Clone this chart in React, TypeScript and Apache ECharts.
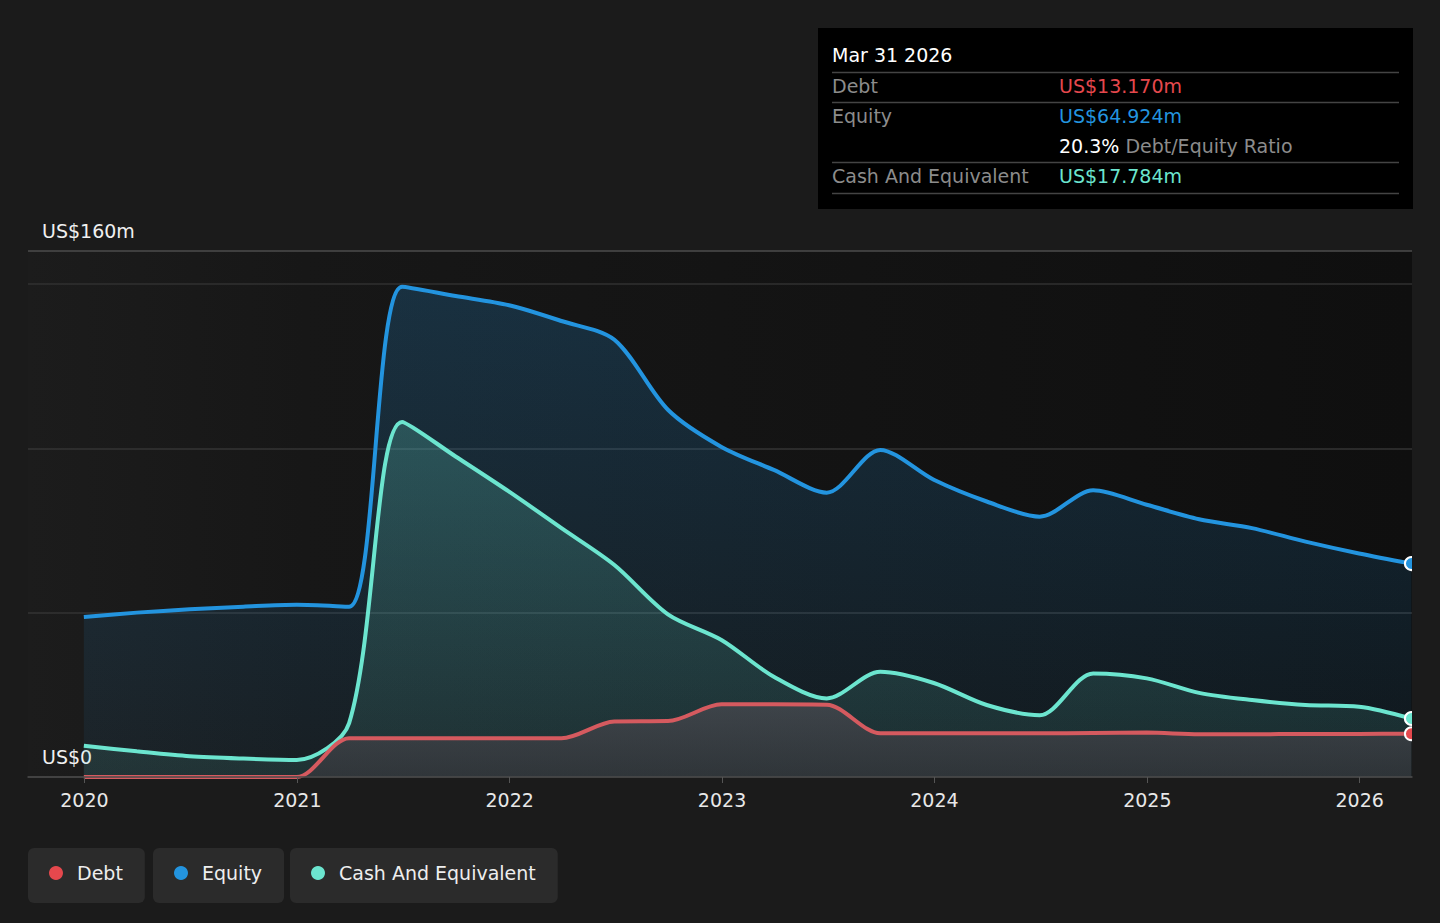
import React, { useEffect, useRef } from "react";
import * as echarts from "echarts";

const dates = [
  "2019-12-31", "2020-03-31", "2020-06-30", "2020-09-30", "2020-12-31",
  "2021-03-31", "2021-06-30", "2021-09-30", "2021-12-31",
  "2022-03-31", "2022-06-30", "2022-09-30", "2022-12-31",
  "2023-03-31", "2023-06-30", "2023-09-30", "2023-12-31",
  "2024-03-31", "2024-06-30", "2024-09-30", "2024-12-31",
  "2025-03-31", "2025-06-30", "2025-09-30", "2025-12-31",
  "2026-03-31",
];

const equity = [
  48.7, 50.0, 51.0, 51.8, 52.4,
  51.8, 149.1, 146.3, 143.5,
  138.7, 133.0, 111.7, 100.4,
  93.4, 86.5, 99.5, 90.4,
  83.8, 79.2, 87.2, 82.8,
  78.4, 75.7, 71.6, 68.0,
  64.924,
];

const cash = [
  9.5, 7.8, 6.3, 5.6, 5.2,
  16.4, 108.0, 97.5, 86.8,
  75.7, 64.5, 49.5, 41.7,
  30.5, 23.9, 32.0, 28.6,
  21.9, 18.8, 31.5, 30.0,
  25.6, 23.4, 21.9, 21.4,
  17.784,
];

const debt = [
  0, 0, 0, 0, 0,
  11.8, 11.8, 11.8, 11.8,
  11.8, 16.9, 17.0, 22.1,
  22.1, 22.0, 13.3, 13.3,
  13.3, 13.3, 13.4, 13.5,
  13.0, 13.0, 13.1, 13.1,
  13.17,
];

const xTickYears = [2020, 2021, 2022, 2023, 2024, 2025, 2026];
const yLabelValues = [0, 160];
const yLabelTexts = ["US$0", "US$160m"];

const seriesNames = ["Debt", "Equity", "Cash And Equivalent"];
const tooltipDate = "Mar 31 2026";

const FONT = "DejaVu Sans";
const FS = 19;
const C_DEBT = "#e5484d";
const C_DEBT_LINE = "#d55a5f";
const C_EQ = "#2394df";
const C_CASH = "#6ce5cf";
const SMOOTH = 0.3;

function fmt(v: number) {
  return "US$" + v.toFixed(3) + "m";
}

function ts(d: string) {
  const [y, m, dd] = d.split("-").map(Number);
  return new Date(y, m - 1, dd).getTime();
}

function buildData(vals: number[], color: string) {
  const last = vals.length - 1;
  return vals.map((v, i) =>
    i === last
      ? {
          value: [ts(dates[i]), v],
          symbol: "circle",
          symbolSize: 13,
          itemStyle: { color, borderColor: "#ffffff", borderWidth: 2 },
        }
      : [ts(dates[i]), v]
  );
}

export default function App() {
  const ref = useRef<HTMLDivElement>(null);

  useEffect(() => {
    if (!ref.current) return;
    const chart = echarts.init(ref.current, null, { renderer: "svg" });
    const li = dates.length - 1;
    const ratio = ((debt[li] / equity[li]) * 100).toFixed(1) + "%";
    const yearTicks = xTickYears.map((y) => new Date(y, 0, 1).getTime());

    const legendCommon = {
      top: 848,
      icon: "circle",
      itemWidth: 14,
      itemHeight: 14,
      backgroundColor: "#2b2b2b",
      borderRadius: 6,
      padding: [15, 22, 20, 21],
      itemStyle: { borderWidth: 0 },
      textStyle: {
        color: "#eeeeee",
        fontSize: FS,
        fontFamily: FONT,
        lineHeight: 20,
        padding: [0, 0, 0, 9],
      },
    };

    const tipX = 832;
    const valX = 1059;
    const sepLine = (y: number) => ({
      type: "line",
      shape: { x1: 832, y1: y, x2: 1399, y2: y },
      style: { stroke: "#444444", lineWidth: 1.5 },
      z: 101,
    });
    const tipText = (x: number, y: number, text: string, fill: string) => ({
      type: "text",
      x,
      y,
      style: {
        text,
        fill,
        font: `${FS}px '${FONT}'`,
        verticalAlign: "middle",
      },
      z: 102,
    });

    chart.setOption({
      animation: false,
      backgroundColor: "#1b1b1b",
      textStyle: { fontFamily: FONT },
      grid: {
        left: 28,
        right: 28,
        top: 251,
        bottom: 146,
        show: true,
        borderWidth: 0,
        backgroundColor: {
          type: "linear",
          x: 0,
          y: 0,
          x2: 1,
          y2: 0,
          colorStops: [
            { offset: 0, color: "#1c1c1c" },
            { offset: 0.2, color: "#171717" },
            { offset: 0.5, color: "#141414" },
            { offset: 1, color: "#0f0f0f" },
          ],
        },
      },
      xAxis: {
        type: "value",
        min: new Date(2019, 8, 26).getTime(),
        max: new Date(2026, 3, 1).getTime(),
        z: 10,
        axisLine: { show: true, lineStyle: { color: "#4a4a4a", width: 1.5 } },
        axisTick: {
          show: true,
          length: 6,
          lineStyle: { color: "#555555" },
          customValues: yearTicks,
        },
        axisLabel: {
          color: "#e8e8e8",
          fontSize: FS,
          fontFamily: FONT,
          margin: 13,
          customValues: yearTicks,
          formatter: (v: number) => String(new Date(v).getFullYear()),
        },
        splitLine: { show: false },
      },
      yAxis: {
        type: "value",
        min: 0,
        max: 160,
        interval: 50,
        axisLine: { show: false },
        axisTick: { show: false },
        axisLabel: {
          inside: true,
          margin: 14,
          color: "#f0f0f0",
          fontSize: FS,
          fontFamily: FONT,
          verticalAlign: "bottom",
          padding: [0, 0, 11, 0],
          customValues: yLabelValues,
          formatter: (v: number) => {
            const k = yLabelValues.indexOf(v);
            return k >= 0 ? yLabelTexts[k] : "";
          },
        },
        splitLine: {
          show: true,
          lineStyle: {
            color: ["#333333", "#333333", "#353535", "#303030", "#4d4d4d"],
            width: 1.5,
          },
        },
      },
      legend: [
        { ...legendCommon, left: 28, data: [seriesNames[0]] },
        { ...legendCommon, left: 153, data: [seriesNames[1]] },
        { ...legendCommon, left: 290, data: [seriesNames[2]] },
      ],
      series: [
        {
          name: seriesNames[1],
          type: "line",
          smooth: SMOOTH,
          symbol: "none",
          z: 2,
          itemStyle: { color: C_EQ },
          lineStyle: { color: C_EQ, width: 4 },
          areaStyle: {
            color: {
              type: "linear",
              x: 0,
              y: 0,
              x2: 0,
              y2: 1,
              colorStops: [
                { offset: 0, color: "rgba(35,148,223,0.30)" },
                { offset: 1, color: "rgba(35,148,223,0.09)" },
              ],
            },
          },
          data: buildData(equity, C_EQ),
        },
        {
          name: seriesNames[2],
          type: "line",
          smooth: SMOOTH,
          symbol: "none",
          z: 3,
          itemStyle: { color: C_CASH },
          lineStyle: { color: C_CASH, width: 4 },
          areaStyle: {
            color: {
              type: "linear",
              x: 0,
              y: 0,
              x2: 0,
              y2: 1,
              colorStops: [
                { offset: 0, color: "rgba(108,229,207,0.31)" },
                { offset: 1, color: "rgba(108,229,207,0.13)" },
              ],
            },
          },
          data: buildData(cash, C_CASH),
        },
        {
          name: seriesNames[0],
          type: "line",
          smooth: SMOOTH,
          symbol: "none",
          z: 4,
          itemStyle: { color: C_DEBT },
          lineStyle: { color: C_DEBT_LINE, width: 4 },
          areaStyle: {
            color: {
              type: "linear",
              x: 0,
              y: 0,
              x2: 0,
              y2: 1,
              colorStops: [
                { offset: 0, color: "rgba(76,74,81,0.97)" },
                { offset: 1, color: "rgba(56,56,61,0.97)" },
              ],
            },
          },
          data: buildData(debt, C_DEBT),
        },
      ],
      graphic: [
        {
          type: "rect",
          shape: { x: 1412, y: 520, width: 28, height: 256 },
          style: { fill: "#1b1b1b" },
          z: 100,
        },
        {
          type: "rect",
          shape: { x: 818, y: 28, width: 595, height: 181 },
          style: { fill: "#000000" },
          z: 100,
        },
        tipText(tipX, 55, tooltipDate, "#ffffff"),
        sepLine(72.5),
        tipText(tipX, 86, seriesNames[0], "#8c8c8c"),
        tipText(valX, 86, fmt(debt[li]), C_DEBT),
        sepLine(102.5),
        tipText(tipX, 116, seriesNames[1], "#8c8c8c"),
        tipText(valX, 116, fmt(equity[li]), C_EQ),
        {
          type: "text",
          x: valX,
          y: 146,
          style: {
            text: `{a|${ratio}} {b|Debt/Equity Ratio}`,
            font: `${FS}px '${FONT}'`,
            verticalAlign: "middle",
            rich: {
              a: { fill: "#ffffff", fontSize: FS, fontFamily: FONT },
              b: { fill: "#8c8c8c", fontSize: FS, fontFamily: FONT },
            },
          },
          z: 102,
        },
        sepLine(162.5),
        tipText(tipX, 176, seriesNames[2], "#8c8c8c"),
        tipText(valX, 176, fmt(cash[li]), C_CASH),
        sepLine(193.5),
      ],
    });

    return () => chart.dispose();
  }, []);

  return (
    <div
      ref={ref}
      style={{ position: "fixed", left: 0, top: 0, width: 1440, height: 923 }}
    />
  );
}
